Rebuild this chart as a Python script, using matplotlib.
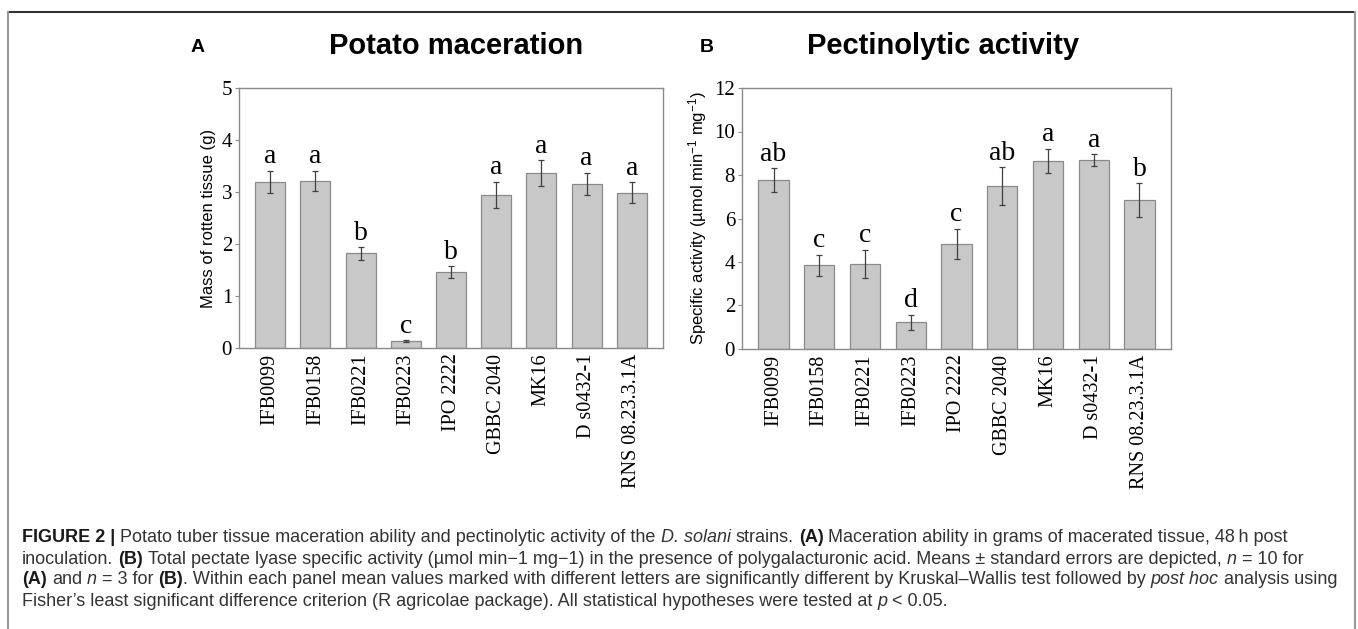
import matplotlib
matplotlib.use("Agg")
import matplotlib.pyplot as plt
from matplotlib.lines import Line2D

plt.rcParams['mathtext.default'] = 'regular'

# data
strains = ['IFB0099', 'IFB0158', 'IFB0221', 'IFB0223', 'IPO 2222',
           'GBBC 2040', 'MK16', 'D s0432-1', 'RNS 08.23.3.1A']

mac_mean = [3.20, 3.21, 1.82, 0.13, 1.46, 2.95, 3.36, 3.16, 2.99]
mac_err = [0.21, 0.20, 0.12, 0.02, 0.11, 0.25, 0.25, 0.21, 0.20]
mac_letters = ['a', 'a', 'b', 'c', 'b', 'a', 'a', 'a', 'a']

pec_mean = [7.77, 3.85, 3.91, 1.23, 4.83, 7.49, 8.64, 8.69, 6.85]
pec_err = [0.55, 0.48, 0.65, 0.35, 0.70, 0.87, 0.57, 0.27, 0.78]
pec_letters = ['ab', 'c', 'c', 'd', 'c', 'ab', 'a', 'a', 'b']

W, H = 1358, 629
fig = plt.figure(figsize=(W / 100, H / 100), dpi=100)

BAR = '#c8c8c8'
EDGE = '#8a8a8a'
SERIF = 'Liberation Serif'
SANS = 'Liberation Sans'


def px(x0, y0, x1, y1):
    # pixel box (top-left origin) -> figure fraction rect
    return [x0 / W, 1 - y1 / H, (x1 - x0) / W, (y1 - y0) / H]


def panel(rect, means, errs, letters, ymax, step, ylabel, title, tag, tag_x, title_x):
    ax = fig.add_axes(px(*rect))
    x = range(len(strains))
    ax.bar(x, means, width=0.66, color=BAR, edgecolor=EDGE, linewidth=0.9, zorder=2)
    ax.errorbar(x, means, yerr=errs, fmt='none', ecolor='#404040',
                elinewidth=0.9, capsize=2.5, capthick=0.9, zorder=3)
    for i, (m, e, l) in enumerate(zip(means, errs, letters)):
        ax.annotate(l, (i, m + e), xytext=(0, 1), textcoords='offset points',
                    ha='center', va='bottom', fontsize=20, family=SERIF)
    ax.set_xlim(-0.69, len(strains) - 1 + 0.69)
    ax.set_ylim(0, ymax)
    ax.set_yticks(range(0, ymax + 1, step))
    ax.set_xticks(list(x))
    ax.set_xticklabels(strains, rotation=90, fontsize=14.5, family=SERIF)
    for t in ax.get_yticklabels():
        t.set_fontsize(15)
        t.set_family(SERIF)
    ax.tick_params(axis='x', length=0, pad=4)
    ax.tick_params(axis='y', length=3, width=0.8, color=EDGE, pad=2)
    for s in ax.spines.values():
        s.set_color(EDGE)
        s.set_linewidth(1.0)
    ax.set_ylabel(ylabel, fontsize=12, family=SANS, labelpad=4)
    fig.text(title_x / W, 1 - 46 / H, title, fontsize=21, fontweight='bold',
             family=SANS, ha='center', va='center')
    fig.text(tag_x / W, 1 - 48 / H, tag, fontsize=14, fontweight='bold',
             family=SANS, ha='left', va='center')
    return ax


panel((239, 88, 663, 348), mac_mean, mac_err, mac_letters, 5, 1,
      'Mass of rotten tissue (g)', 'Potato maceration', 'A', 191, 456)
panel((742, 88, 1171, 349), pec_mean, pec_err, pec_letters, 12, 2,
      r'Specific activity (µmol min$^{-1}$ mg$^{-1}$)', 'Pectinolytic activity',
      'B', 700, 943)

# frame around the figure
fig.add_artist(Line2D([8 / W, 1355 / W], [1 - 12 / H, 1 - 12 / H],
                      transform=fig.transFigure, color='#333333', lw=1.5))
for xx in (8, 1355):
    fig.add_artist(Line2D([xx / W, xx / W], [1 - 12 / H, 0],
                          transform=fig.transFigure, color='#999999', lw=1.5))

# caption with mixed styles
N, B, I = 'normal', 'bold', 'italic'
caption = [
    [('FIGURE 2 |', B), ('Potato tuber tissue maceration ability and pectinolytic activity of the', N),
     ('D. solani', I), ('strains.', N), ('(A)', B),
     ('Maceration ability in grams of macerated tissue, 48\u2009h post', N)],
    [('inoculation.', N), ('(B)', B),
     ('Total pectate lyase specific activity (µmol min\u22121 mg\u22121) in the presence of polygalacturonic acid. '
      'Means ± standard errors are depicted,', N), ('n', I), ('= 10 for', N)],
    [('(A)', B), ('and', N), ('n', I), ('= 3 for', N), ('(B)', B, 0),
     ('. Within each panel mean values marked with different letters are significantly different by '
      'Kruskal\u2013Wallis test followed by', N), ('post hoc', I), ('analysis using', N)],
    [('Fisher\u2019s least significant difference criterion (R agricolae package). '
      'All statistical hypotheses were tested at', N), ('p', I), ('< 0.05.', N)],
]
line_y = [537, 559, 580, 601]
CAP_FS = 13.0

fig.canvas.draw()
r = fig.canvas.get_renderer()
probe = fig.text(0, 0, 'x x', fontsize=CAP_FS, family=SANS)
probe2 = fig.text(0, 0, 'xx', fontsize=CAP_FS, family=SANS)
space = probe.get_window_extent(r).width - probe2.get_window_extent(r).width
probe.remove()
probe2.remove()

for segs, yy in zip(caption, line_y):
    xpos = 22
    for k, seg in enumerate(segs):
        txt, sty = seg[0], seg[1]
        if k > 0 and not (len(segs[k - 1]) > 2 and segs[k - 1][2] == 0):
            xpos += space
        weight = 'bold' if sty == B else 'normal'
        style = 'italic' if sty == I else 'normal'
        col = '#1a1a1a' if sty == B else '#333333'
        t = fig.text(xpos / W, 1 - yy / H, txt, fontsize=CAP_FS, family=SANS,
                     fontweight=weight, fontstyle=style, color=col,
                     ha='left', va='center')
        xpos += t.get_window_extent(r).width

fig.savefig('out.png', dpi=100)
